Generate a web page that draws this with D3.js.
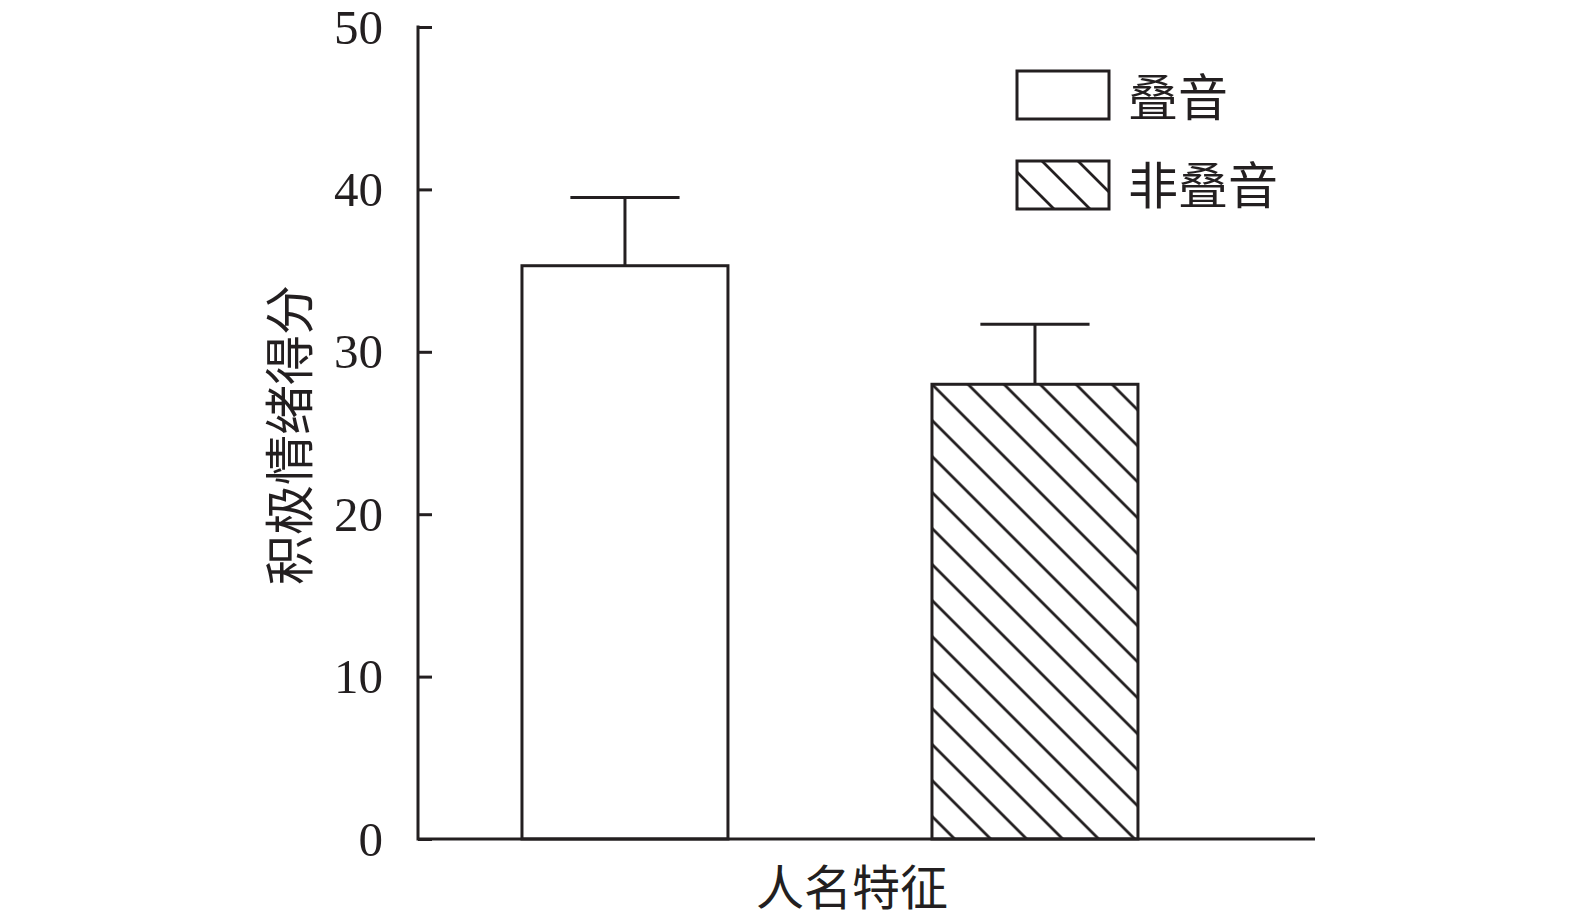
<!DOCTYPE html>
<html>
<head>
<meta charset="utf-8">
<script src="https://cdn.jsdelivr.net/npm/d3@7"></script>
<style>
  html, body { margin: 0; padding: 0; background: #fff; }
  svg { display: block; }
</style>
</head>
<body>
<svg id="chart" width="1575" height="920"></svg>
<script>
// ---- data ----
const categories = ["叠音", "非叠音"];
const means = [35.3, 28.0];
const errors = [4.2, 3.7];
const yTicks = [0, 10, 20, 30, 40, 50];
const yLabel = "积极情绪得分";
const xLabel = "人名特征";
const fills = ["plain", "hatch"];

const svg = d3.select("#chart");
const ink = "#231f20";
const cjk = "'Noto Sans CJK SC', 'Noto Sans CJK JP', sans-serif";
const serif = "'Liberation Serif', 'Times New Roman', serif";

const y = d3.scaleLinear().domain([0, 50]).range([839, 27]);
const x = d3.scaleBand().domain(categories).range([418, 1315])
  .paddingInner(0.4976).paddingOuter(0.3427).align(0.37);

const defs = svg.append("defs");
function makeHatch(id, ox, oy) {
  const p = defs.append("pattern")
    .attr("id", id)
    .attr("patternUnits", "userSpaceOnUse")
    .attr("width", 36).attr("height", 36)
    .attr("patternTransform", `translate(${ox},${oy})`);
  p.append("rect").attr("width", 36).attr("height", 36).attr("fill", "#fff");
  p.append("path")
    .attr("d", "M0,0L36,36M-9,27L9,45M27,-9L45,9")
    .attr("stroke", ink).attr("stroke-width", 2.8).attr("fill", "none");
}
makeHatch("hatchBar", x(categories[1]), y(means[1]));
makeHatch("hatchLegend", 1017 + 25, 161);

// bars
const g = svg.append("g");
categories.forEach((c, i) => {
  const cx = x(c) + x.bandwidth() / 2;
  const half = x.bandwidth() * 0.265;
  g.append("line")
    .attr("x1", cx).attr("x2", cx)
    .attr("y1", y(means[i])).attr("y2", y(means[i] + errors[i]))
    .attr("stroke", ink).attr("stroke-width", 3);
  g.append("line")
    .attr("x1", cx - half).attr("x2", cx + half)
    .attr("y1", y(means[i] + errors[i])).attr("y2", y(means[i] + errors[i]))
    .attr("stroke", ink).attr("stroke-width", 3);
  g.append("rect")
    .attr("x", x(c)).attr("y", y(means[i]))
    .attr("width", x.bandwidth()).attr("height", y(0) - y(means[i]))
    .attr("fill", fills[i] === "hatch" ? "url(#hatchBar)" : "#fff")
    .attr("stroke", ink).attr("stroke-width", 3);
});

// y axis
const yAxis = d3.axisLeft(y).tickValues(yTicks).tickSize(-14).tickPadding(35)
  .tickFormat(d3.format("d"));
const ya = svg.append("g").attr("transform", "translate(418,0)").call(yAxis);
ya.select(".domain").remove();
ya.selectAll(".tick line").attr("stroke", ink).attr("stroke-width", 3);
ya.selectAll(".tick text")
  .attr("font-family", serif).attr("font-size", 49).attr("fill", ink)
  .attr("dy", "0.33em");
svg.append("line")
  .attr("x1", 418).attr("x2", 418).attr("y1", y(50) - 1.5).attr("y2", y(0) + 1.5)
  .attr("stroke", ink).attr("stroke-width", 3);
svg.append("line")
  .attr("x1", 418).attr("x2", 1315).attr("y1", y(0)).attr("y2", y(0))
  .attr("stroke", ink).attr("stroke-width", 3);

// axis labels
svg.append("text")
  .attr("transform", "translate(286,435) rotate(-90)")
  .attr("text-anchor", "middle").attr("dominant-baseline", "central")
  .attr("font-family", cjk).attr("font-size", 50).attr("fill", ink)
  .text(yLabel);
svg.append("text")
  .attr("x", 852).attr("y", 884)
  .attr("text-anchor", "middle").attr("dominant-baseline", "central")
  .attr("font-family", cjk).attr("font-size", 48).attr("fill", ink)
  .text(xLabel);

// legend
const legendY = [71, 161];
const legendTextY = [94, 182];
categories.forEach((c, i) => {
  svg.append("rect")
    .attr("x", 1017).attr("y", legendY[i]).attr("width", 92).attr("height", 48)
    .attr("fill", fills[i] === "hatch" ? "url(#hatchLegend)" : "#fff")
    .attr("stroke", ink).attr("stroke-width", 3);
  svg.append("text")
    .attr("x", 1128).attr("y", legendTextY[i])
    .attr("dominant-baseline", "central")
    .attr("font-family", cjk).attr("font-size", 50).attr("fill", ink)
    .text(c);
});
</script>
</body>
</html>
